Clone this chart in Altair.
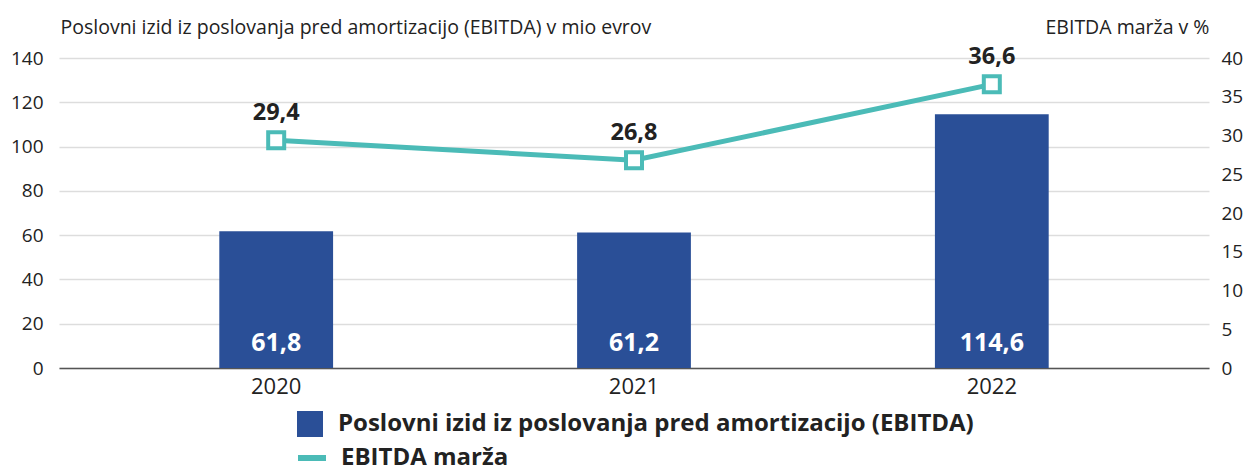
import altair as alt
import pandas as pd

years = ["2020", "2021", "2022"]
ebitda = [61.8, 61.2, 114.6]
margin = [29.4, 26.8, 36.6]
left_ticks = [0, 20, 40, 60, 80, 100, 120, 140]
right_ticks = [0, 5, 10, 15, 20, 25, 30, 35, 40]
bar_name = "Poslovni izid iz poslovanja pred amortizacijo (EBITDA)"
line_name = "EBITDA marža"
left_title = "Poslovni izid iz poslovanja pred amortizacijo (EBITDA) v mio evrov"
right_title = "EBITDA marža v %"

BAR_COLOR = "#2a4f97"
LINE_COLOR = "#4bbbb7"
TEXT = "#222222"
FONT = "Open Sans"

df = pd.DataFrame({
    "year": years,
    "ebitda": ebitda,
    "margin": margin,
    "bar_series": [bar_name] * len(years),
    "line_series": [line_name] * len(years),
})

xenc = alt.X(
    "year:N", sort=years,
    scale=alt.Scale(paddingInner=0.682, paddingOuter=0.448),
    axis=alt.Axis(title=None, labelAngle=0, labelFontSize=22, labelColor=TEXT,
                  labelPadding=8, ticks=False, domain=True, domainColor="#555555",
                  domainWidth=1.5, grid=False),
)

yleft = alt.Scale(domain=[0, 140])
yright = alt.Scale(domain=[0, 40])

base = alt.Chart(df)

bars = base.mark_bar().encode(
    x=xenc,
    y=alt.Y("ebitda:Q", scale=yleft,
            axis=alt.Axis(values=left_ticks, title=left_title, titleAngle=0,
                          titleX=1, titleY=-25, titleAlign="left",
                          titleBaseline="alphabetic", titleFontSize=19.5,
                          titleFontWeight="normal", titleColor=TEXT,
                          labelFontSize=19, labelColor=TEXT, labelPadding=16,
                          ticks=False, domain=False, grid=True,
                          gridColor="#dddddd", gridWidth=1.5)),
    fill=alt.Fill("bar_series:N", scale=alt.Scale(range=[BAR_COLOR]),
                  legend=alt.Legend(title=None, orient="none", legendX=238, legendY=353,
                                    symbolType="square", symbolSize=676,
                                    symbolStrokeWidth=0, labelFontSize=24,
                                    labelFontWeight="bold", labelColor=TEXT,
                                    labelOffset=15, labelLimit=900)),
)

bar_labels = base.transform_calculate(
    lbl="replace(format(datum.ebitda, '.1f'), '.', ',')"
).mark_text(color="white", fontSize=25, fontWeight="bold", dy=-25).encode(
    x=xenc,
    y=alt.datum(0, scale=yleft),
    text="lbl:N",
)

bar_group = alt.layer(bars, bar_labels)

right_axis = alt.Axis(values=right_ticks, orient="right", title=right_title,
                      titleAngle=0, titleX=0, titleY=-25, titleAlign="right",
                      titleBaseline="alphabetic", titleFontSize=19.5,
                      titleFontWeight="normal", titleColor=TEXT,
                      labelFontSize=19, labelColor=TEXT, labelPadding=12,
                      ticks=False, domain=False, grid=False)

yr = alt.Y("margin:Q", scale=yright, axis=right_axis)

line = base.mark_line(strokeWidth=5).encode(
    x=xenc,
    y=yr,
    stroke=alt.Stroke("line_series:N", scale=alt.Scale(range=[LINE_COLOR]),
                      legend=alt.Legend(title=None, orient="none", legendX=236, legendY=383,
                                        symbolType="stroke", symbolSize=784,
                                        symbolStrokeWidth=6, labelFontSize=24,
                                        labelFontWeight="bold", labelColor=TEXT,
                                        labelOffset=12, labelLimit=900)),
)

points = base.mark_point(shape="square", size=256, filled=True, fill="white",
                         stroke=LINE_COLOR, strokeWidth=4, opacity=1).encode(
    x=xenc,
    y=yr,
)

point_labels = base.transform_calculate(
    lbl="replace(format(datum.margin, '.1f'), '.', ',')"
).mark_text(color=TEXT, fontSize=23.5, fontWeight="bold", dy=-27).encode(
    x=xenc,
    y=yr,
    text="lbl:N",
)

line_group = alt.layer(line, points, point_labels)

chart = alt.layer(bar_group, line_group).resolve_scale(
    y="independent"
).properties(
    width=1150, height=310,
    padding={"left": 51, "top": 50, "right": 36, "bottom": 105},
    autosize=alt.AutoSizeParams(type="none"),
).configure(
    font=FONT,
).configure_view(stroke=None)

chart.save("out.html", embed_options={"renderer": "svg", "actions": False})
